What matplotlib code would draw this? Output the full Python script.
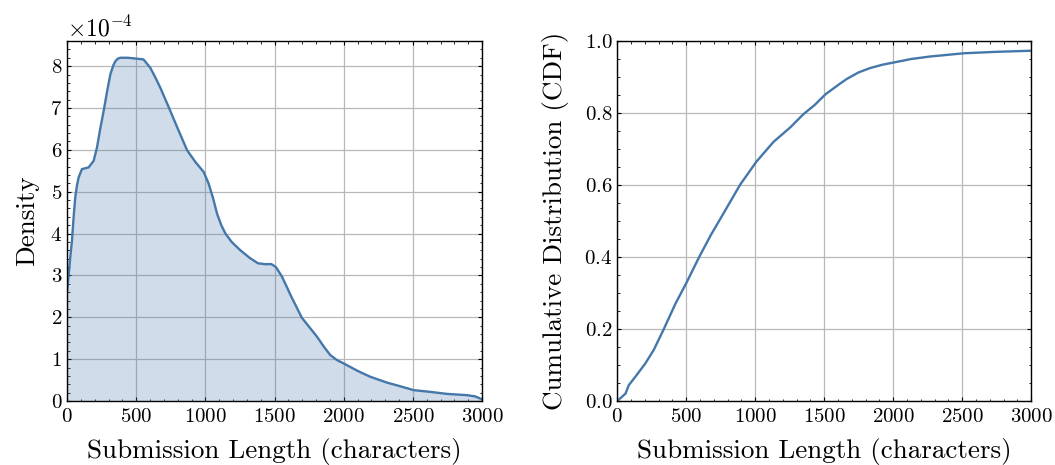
import matplotlib
matplotlib.use("Agg")
import matplotlib.pyplot as plt
from matplotlib.ticker import MultipleLocator, AutoMinorLocator
import numpy as np

# KDE of submission length (density in units of 1e-4)
kde_x = [0, 12, 24, 36, 48, 60, 72, 84, 108, 156, 193, 217, 240, 265, 290,
         313, 335, 350, 368, 386, 440, 500, 553, 602, 640, 675, 735, 795,
         868, 928, 988, 1024, 1055, 1085, 1115, 1145, 1190, 1253, 1320, 1380,
         1430, 1477, 1510, 1554, 1620, 1697, 1806, 1860, 1902, 1950, 1998,
         2100, 2191, 2312, 2400, 2505, 2620, 2746, 2890, 2950, 3000]
kde_y = [2.6, 3.0, 3.45, 3.83, 4.4, 4.87, 5.15, 5.34, 5.54, 5.58, 5.74, 6.06,
         6.5, 6.93, 7.4, 7.8, 8.02, 8.12, 8.18, 8.2, 8.2, 8.18, 8.16, 7.96,
         7.72, 7.48, 7.02, 6.55, 5.99, 5.71, 5.47, 5.19, 4.85, 4.47, 4.2,
         4.0, 3.8, 3.6, 3.42, 3.29, 3.27, 3.27, 3.2, 2.97, 2.5, 1.99, 1.54,
         1.28, 1.1, 0.98, 0.9, 0.72, 0.58, 0.44, 0.36, 0.26, 0.22, 0.17,
         0.14, 0.11, 0.04]

# empirical CDF
cdf_x = [0, 30, 61, 84, 133, 205, 265, 338, 423, 500, 594, 680, 770, 891,
         1009, 1133, 1254, 1350, 1430, 1509, 1616, 1665, 1750, 1833, 1920,
         2012, 2130, 2268, 2514, 2750, 3000]
cdf_y = [0.0, 0.01, 0.021, 0.044, 0.068, 0.105, 0.142, 0.2, 0.271, 0.327,
         0.40, 0.462, 0.521, 0.601, 0.665, 0.72, 0.76, 0.797, 0.822, 0.852,
         0.882, 0.895, 0.913, 0.925, 0.934, 0.941, 0.950, 0.957, 0.966,
         0.970, 0.973]

BLUE = "#4477AA"

plt.rcParams.update({
    "font.family": "serif",
    "font.serif": ["cmr10"],
    "mathtext.fontset": "cm",
    "axes.formatter.use_mathtext": True,
    "axes.unicode_minus": False,
    "font.size": 15,
    "axes.labelsize": 19.5,
    "xtick.labelsize": 15,
    "ytick.labelsize": 15,
    "xtick.major.pad": 5,
    "axes.linewidth": 1.0,
    "xtick.direction": "in",
    "ytick.direction": "in",
    "xtick.top": True,
    "ytick.right": True,
    "xtick.major.size": 3,
    "ytick.major.size": 3,
    "xtick.minor.size": 1.8,
    "ytick.minor.size": 1.8,
    "xtick.minor.visible": True,
    "ytick.minor.visible": True,
    "grid.color": "#b8b8b8",
    "grid.linewidth": 0.9,
})

fig = plt.figure(figsize=(10.55, 4.65), dpi=100)
ax1 = fig.add_axes([0.0635, 0.1376, 0.3935, 0.7742])
ax2 = fig.add_axes([0.585, 0.1376, 0.3925, 0.7742])

dens = np.array(kde_y) * 1e-4
ax1.plot(kde_x, dens, color=BLUE, lw=1.7)
ax1.fill_between(kde_x, dens, 0, color=BLUE, alpha=0.25, lw=0)
ax1.set_xlim(0, 3000)
ax1.set_ylim(0, 8.6e-4)
ax1.xaxis.set_major_locator(MultipleLocator(500))
ax1.xaxis.set_minor_locator(AutoMinorLocator(5))
ax1.yaxis.set_major_locator(MultipleLocator(1e-4))
ax1.yaxis.set_minor_locator(AutoMinorLocator(5))
ax1.ticklabel_format(axis="y", style="sci", scilimits=(0, 0))
ax1.yaxis.get_offset_text().set_fontsize(17)
ax1.set_xlabel("Submission Length (characters)", labelpad=9)
ax1.set_ylabel("Density", labelpad=8)
ax1.grid(True)
ax1.set_axisbelow(True)

ax2.plot(cdf_x, cdf_y, color=BLUE, lw=1.7)
ax2.set_xlim(0, 3000)
ax2.set_ylim(0, 1.0)
ax2.xaxis.set_major_locator(MultipleLocator(500))
ax2.xaxis.set_minor_locator(AutoMinorLocator(5))
ax2.yaxis.set_major_locator(MultipleLocator(0.2))
ax2.yaxis.set_minor_locator(AutoMinorLocator(4))
ax2.set_xlabel("Submission Length (characters)", labelpad=9)
ax2.set_ylabel("Cumulative Distribution (CDF)", labelpad=11)
ax2.grid(True)
ax2.set_axisbelow(True)

fig.savefig("out.png", dpi=100)
